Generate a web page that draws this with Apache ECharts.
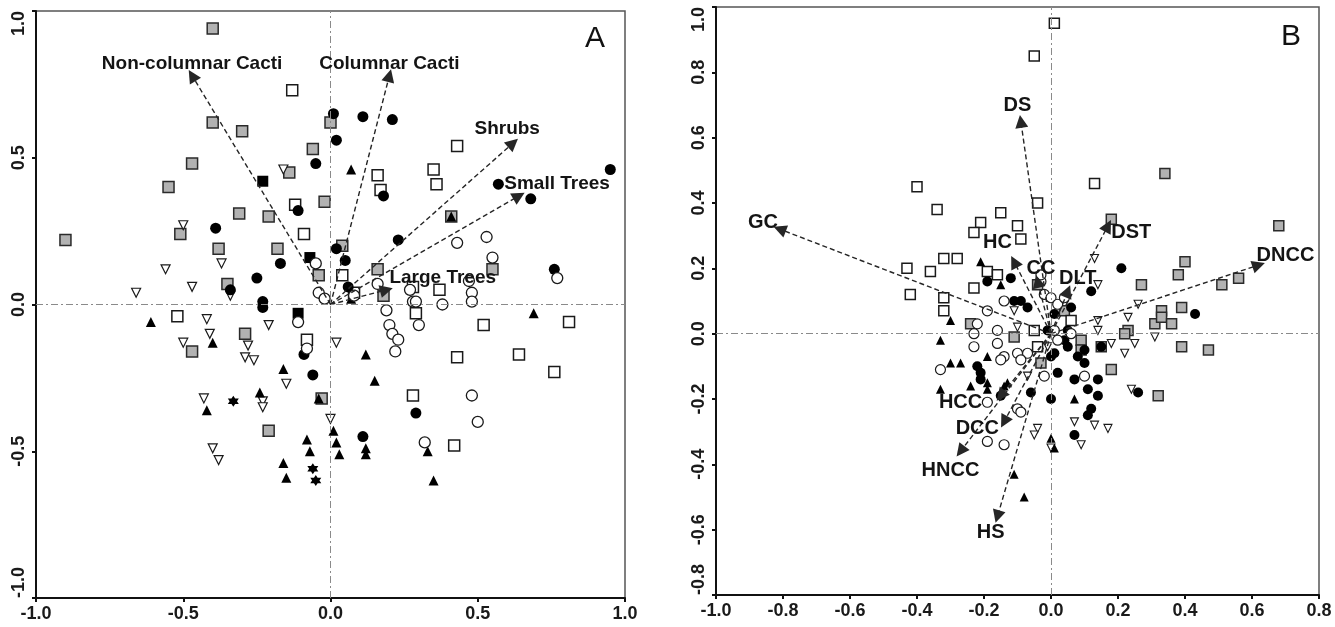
<!DOCTYPE html>
<html>
<head>
<meta charset="utf-8">
<script src="https://cdn.jsdelivr.net/npm/echarts@6/dist/echarts.min.js"></script>
<style>
  html, body { margin: 0; background: #fff; }
  #chart { width: 1335px; height: 627px; }
</style>
</head>
<body>
<div id="chart"></div>
<script>
// ---- panel A: site scores by symbol ----
const aGraySq = [[-0.40,0.94],[-0.40,0.62],[-0.30,0.59],[-0.47,0.48],[-0.55,0.40],[-0.90,0.22],[-0.51,0.24],[-0.31,0.31],[-0.21,0.30],[-0.38,0.19],[-0.35,0.07],[-0.18,0.19],[-0.04,0.10],[-0.06,0.53],[-0.14,0.45],[-0.02,0.35],[0.00,0.62],[0.04,0.20],[0.16,0.12],[0.18,0.03],[0.55,0.12],[0.41,0.30],[-0.29,-0.10],[-0.47,-0.16],[-0.03,-0.32],[-0.21,-0.43]]
const aBlackSq = [[-0.23,0.42],[-0.07,0.16],[-0.11,-0.03]]
const aOpenSq = [[-0.13,0.73],[-0.09,0.24],[-0.52,-0.04],[-0.08,-0.12],[0.43,0.54],[0.16,0.44],[0.35,0.46],[0.36,0.41],[0.17,0.39],[0.04,0.10],[0.08,0.04],[0.28,0.06],[0.37,0.05],[0.29,-0.03],[0.52,-0.07],[0.81,-0.06],[0.43,-0.18],[0.64,-0.17],[0.76,-0.23],[0.28,-0.31],[0.42,-0.48],[-0.12,0.34]]
const aBlackDot = [[0.01,0.65],[-0.05,0.48],[0.02,0.56],[-0.11,0.32],[-0.39,0.26],[-0.17,0.14],[-0.25,0.09],[-0.34,0.05],[-0.23,0.01],[-0.23,-0.01],[0.02,0.19],[0.11,0.64],[0.21,0.63],[0.18,0.37],[0.57,0.41],[0.68,0.36],[0.95,0.46],[0.23,0.22],[0.05,0.15],[0.06,0.06],[0.76,0.12],[-0.09,-0.17],[-0.06,-0.24],[0.29,-0.37],[0.11,-0.45]]
const aOpenDot = [[-0.05,0.14],[-0.04,0.04],[-0.02,0.02],[0.08,0.03],[0.16,0.07],[0.27,0.05],[0.28,0.01],[0.19,-0.02],[0.20,-0.07],[0.21,-0.10],[0.23,-0.12],[0.22,-0.16],[0.30,-0.07],[-0.11,-0.06],[-0.08,-0.15],[0.43,0.21],[0.53,0.23],[0.55,0.16],[0.77,0.09],[0.47,0.08],[0.48,0.04],[0.48,0.01],[0.38,0.00],[0.29,0.01],[0.48,-0.31],[0.50,-0.40],[0.32,-0.47]]
const aBlackTri = [[0.07,0.46],[0.69,-0.03],[-0.61,-0.06],[-0.40,-0.13],[-0.16,-0.22],[-0.24,-0.30],[-0.42,-0.36],[-0.04,-0.32],[0.01,-0.43],[-0.08,-0.46],[-0.07,-0.50],[-0.16,-0.54],[-0.15,-0.59],[0.02,-0.47],[0.03,-0.51],[0.12,-0.17],[0.15,-0.26],[0.12,-0.49],[0.12,-0.51],[0.33,-0.50],[0.35,-0.60],[0.07,0.02],[0.41,0.30]]
const aOpenTri = [[-0.16,0.46],[-0.50,0.27],[-0.56,0.12],[-0.37,0.14],[-0.47,0.06],[-0.66,0.04],[-0.34,0.03],[-0.42,-0.05],[-0.41,-0.10],[-0.50,-0.13],[-0.21,-0.07],[-0.28,-0.14],[-0.29,-0.18],[-0.26,-0.19],[-0.15,-0.27],[-0.43,-0.32],[-0.23,-0.33],[-0.23,-0.35],[0.00,-0.39],[-0.40,-0.49],[-0.38,-0.53],[0.02,-0.13]]
const aStar = [[-0.33,-0.33],[-0.06,-0.56],[-0.05,-0.60]]

// panel A: variable vectors
const aVarNames = ['Non-columnar Cacti', 'Columnar Cacti', 'Shrubs', 'Small Trees', 'Large Trees']
const aVarTips = [[-0.47,0.78],[0.20,0.78],[0.62,0.55],[0.64,0.37],[0.19,0.05]]
const aVarLabels = [[-0.47,0.82],[0.20,0.82],[0.60,0.60],[0.59,0.41],[0.20,0.09]]

// ---- panel B ----
const bGraySq = [[0.34,0.49],[0.18,0.35],[0.68,0.33],[0.40,0.22],[0.38,0.18],[0.27,0.15],[0.51,0.15],[0.56,0.17],[0.33,0.07],[0.39,0.08],[-0.04,0.15],[0.31,0.03],[0.33,0.05],[0.36,0.03],[0.23,0.01],[0.22,0.00],[0.09,-0.02],[0.09,-0.05],[0.15,-0.04],[0.18,-0.11],[0.32,-0.19],[0.39,-0.04],[0.47,-0.05],[-0.11,-0.01],[-0.03,-0.09],[0.04,0.07],[-0.24,0.03]]
const bOpenSq = [[0.01,0.95],[-0.05,0.85],[0.13,0.46],[-0.04,0.40],[-0.15,0.37],[-0.10,0.33],[-0.09,0.29],[-0.40,0.45],[-0.34,0.38],[-0.21,0.34],[-0.23,0.31],[-0.32,0.23],[-0.28,0.23],[-0.43,0.20],[-0.36,0.19],[-0.19,0.19],[-0.16,0.18],[-0.42,0.12],[-0.32,0.11],[-0.23,0.14],[-0.32,0.07],[-0.05,0.01],[0.06,0.04],[-0.04,-0.04]]
const bBlackDot = [[0.21,0.20],[0.12,0.13],[-0.12,0.17],[0.43,0.06],[0.01,0.06],[0.06,0.08],[-0.09,0.10],[-0.07,0.08],[-0.19,0.16],[-0.11,0.10],[-0.01,0.01],[0.05,0.01],[0.04,-0.02],[0.10,-0.05],[0.15,-0.04],[0.01,-0.06],[0.05,-0.04],[0.08,-0.07],[0.10,-0.09],[0.00,-0.07],[0.02,-0.12],[0.07,-0.14],[0.14,-0.14],[0.11,-0.17],[0.14,-0.19],[-0.06,-0.18],[0.00,-0.20],[-0.15,-0.19],[0.26,-0.18],[0.11,-0.25],[0.12,-0.23],[0.07,-0.31],[-0.21,-0.12],[-0.21,-0.14],[-0.22,-0.10]]
const bOpenDot = [[-0.19,0.07],[-0.14,0.10],[-0.03,0.16],[-0.02,0.12],[0.00,0.11],[0.02,0.09],[0.04,0.11],[-0.22,0.03],[-0.16,0.01],[0.01,0.01],[0.06,0.00],[0.02,-0.02],[-0.23,-0.04],[-0.16,-0.03],[-0.14,-0.07],[-0.10,-0.06],[-0.07,-0.06],[-0.33,-0.11],[-0.23,0.00],[-0.15,-0.08],[-0.19,-0.21],[-0.19,-0.33],[-0.14,-0.34],[-0.09,-0.08],[-0.02,-0.13],[-0.10,-0.23],[-0.09,-0.24],[0.10,-0.13],[-0.03,0.18]]
const bBlackTri = [[-0.21,0.22],[-0.15,0.15],[-0.30,0.04],[-0.33,-0.02],[-0.19,-0.07],[-0.30,-0.09],[-0.27,-0.09],[-0.24,-0.16],[-0.33,-0.17],[-0.19,-0.15],[-0.14,-0.16],[-0.19,-0.17],[-0.13,-0.15],[0.07,-0.20],[0.00,-0.32],[0.01,-0.35],[-0.11,-0.43],[-0.08,-0.50]]
const bOpenTri = [[0.13,0.23],[0.14,0.15],[-0.11,0.07],[-0.10,0.02],[0.14,0.04],[0.14,0.01],[0.23,0.05],[0.25,-0.03],[0.22,-0.06],[-0.01,-0.04],[0.18,-0.03],[0.31,-0.01],[0.24,-0.17],[0.07,-0.27],[0.13,-0.28],[0.17,-0.29],[-0.04,-0.29],[-0.05,-0.31],[0.09,-0.34],[0.00,-0.35],[-0.07,-0.13],[0.26,0.09]]

const bVarNames = ['GC', 'DS', 'DST', 'DNCC', 'HC', 'CC', 'DLT', 'HCC', 'DCC', 'HNCC', 'HS']
const bVarTips = [[-0.81,0.32],[-0.09,0.65],[0.17,0.33],[0.62,0.21],[-0.11,0.22],[-0.04,0.16],[0.05,0.13],[-0.15,-0.19],[-0.14,-0.27],[-0.27,-0.36],[-0.16,-0.56]]
const bVarLabels = [[-0.86,0.34],[-0.10,0.70],[0.18,0.31],[0.70,0.24],[-0.16,0.28],[-0.03,0.20],[0.08,0.17],[-0.27,-0.21],[-0.22,-0.29],[-0.30,-0.42],[-0.18,-0.61]]

const leftAligned = new Set(['Small Trees', 'Large Trees', 'DST'])
const font = 'Liberation Sans, Arial, sans-serif'
const STAR = 'path://M0,-10 L2.9,-5 L8.7,-5 L5.8,0 L8.7,5 L2.9,5 L0,10 L-2.9,5 L-8.7,5 L-5.8,0 L-8.7,-5 L-2.9,-5 Z'

const grayStyle = { color: '#b2b2b2', borderColor: '#2a2a2a', borderWidth: 1.5, opacity: 1 }
const openStyle = { color: '#fff', borderColor: '#1a1a1a', borderWidth: 1.5, opacity: 1 }
const blackStyle = { color: '#000', opacity: 1 }

function pts(data, g, symbol, size, style, rotate) {
  return {
    type: 'scatter', xAxisIndex: g, yAxisIndex: g, data,
    symbol, symbolSize: size, symbolRotate: rotate || 0,
    itemStyle: style, silent: true, z: 3
  }
}

function arrows(g, tips) {
  return {
    type: 'lines', coordinateSystem: 'cartesian2d', xAxisIndex: g, yAxisIndex: g,
    symbol: ['none', 'triangle'], symbolSize: [0, 13],
    lineStyle: { color: '#262626', width: 1.4, type: [5, 3], opacity: 1 },
    data: tips.map(t => ({ coords: [[0, 0], t] })),
    silent: true, z: 4
  }
}

function varLabels(g, names, pos, size) {
  return {
    type: 'scatter', xAxisIndex: g, yAxisIndex: g, symbolSize: 0,
    itemStyle: { opacity: 1 },
    data: names.map((n, i) => ({ name: n, value: pos[i], label: { align: leftAligned.has(n) ? 'left' : 'center' } })),
    label: { show: true, position: 'inside', formatter: '{b}', color: '#141414', fontWeight: 'bold', fontSize: size, fontFamily: font },
    silent: true, z: 5
  }
}

function refLines(g) {
  return {
    type: 'scatter', xAxisIndex: g, yAxisIndex: g, data: [], silent: true, z: 1,
    markLine: {
      silent: true, symbol: 'none', label: { show: false },
      lineStyle: { color: '#8a8a8a', width: 1, type: [7, 3, 2, 3] },
      data: [{ xAxis: 0 }, { yAxis: 0 }]
    }
  }
}

function axis(g, min, max, step, isY) {
  const label = {
    formatter: v => v.toFixed(1), rotate: isY ? 90 : 0, margin: isY ? 8 : 7,
    fontSize: 18, fontWeight: 'bold', color: '#1a1a1a', fontFamily: font
  }
  if (isY) {
    // edge labels sit inside the frame, as in the original
    label.alignMinLabel = 'left'
    label.alignMaxLabel = 'right'
  }
  return {
    gridIndex: g, type: 'value', min, max, interval: step,
    axisLine: { onZero: false, lineStyle: { color: '#111', width: 2 } },
    axisTick: { show: true, length: 4, lineStyle: { color: '#111', width: 2 } },
    axisLabel: label,
    splitLine: { show: false }
  }
}

const chart = echarts.init(document.getElementById('chart'))
chart.setOption({
  animation: false,
  backgroundColor: '#fff',
  grid: [
    { left: 36, top: 11, width: 589, height: 587, show: true, borderColor: '#555', borderWidth: 1.5 },
    { left: 716, top: 7, width: 603, height: 588, show: true, borderColor: '#555', borderWidth: 1.5 }
  ],
  xAxis: [axis(0, -1, 1, 0.5, false), axis(1, -1, 0.8, 0.2, false)],
  yAxis: [axis(0, -1, 1, 0.5, true), axis(1, -0.8, 1.0, 0.2, true)],
  graphic: [
    { type: 'text', left: 585, top: 24, style: { text: 'A', fontSize: 30, fontFamily: font, fill: '#111' } },
    { type: 'text', left: 1281, top: 22, style: { text: 'B', fontSize: 30, fontFamily: font, fill: '#111' } }
  ],
  series: [
    refLines(0), refLines(1),
    // panel A
    pts(aGraySq, 0, 'rect', 11, grayStyle),
    pts(aOpenSq, 0, 'rect', 11, openStyle),
    pts(aBlackSq, 0, 'rect', 11, blackStyle),
    pts(aOpenTri, 0, 'triangle', 9, { color: '#fff', borderColor: '#1a1a1a', borderWidth: 1.2, opacity: 1 }, 180),
    pts(aBlackTri, 0, 'triangle', 10, blackStyle),
    pts(aStar, 0, STAR, 11, blackStyle),
    pts(aBlackDot, 0, 'circle', 11, blackStyle),
    pts(aOpenDot, 0, 'circle', 11, { color: '#fff', borderColor: '#1a1a1a', borderWidth: 1.3, opacity: 1 }),
    arrows(0, aVarTips),
    varLabels(0, aVarNames, aVarLabels, 19),
    // panel B
    pts(bGraySq, 1, 'rect', 10, grayStyle),
    pts(bOpenSq, 1, 'rect', 10, openStyle),
    pts(bOpenTri, 1, 'triangle', 8, { color: '#fff', borderColor: '#1a1a1a', borderWidth: 1.1, opacity: 1 }, 180),
    pts(bBlackTri, 1, 'triangle', 9, blackStyle),
    pts(bBlackDot, 1, 'circle', 10, blackStyle),
    pts(bOpenDot, 1, 'circle', 10, { color: '#fff', borderColor: '#1a1a1a', borderWidth: 1.2, opacity: 1 }),
    arrows(1, bVarTips),
    varLabels(1, bVarNames, bVarLabels, 20)
  ]
})
</script>
</body>
</html>
